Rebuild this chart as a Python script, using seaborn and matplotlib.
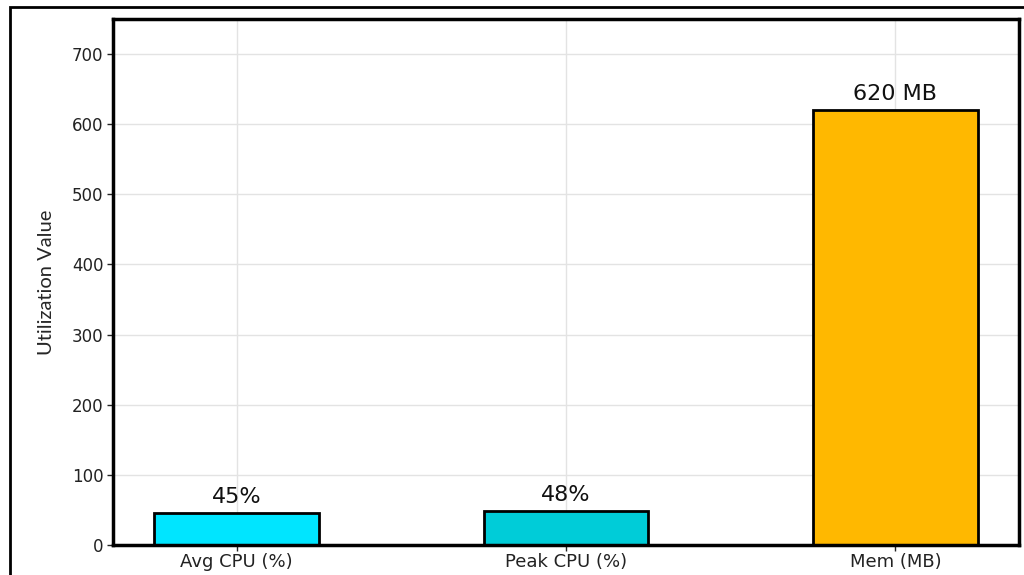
import matplotlib
matplotlib.use("Agg")
import matplotlib.pyplot as plt
import seaborn as sns
import pandas as pd
from matplotlib.patches import Rectangle

# ──────────────────────────────────────────────
# Data
# ──────────────────────────────────────────────
metrics = ["Avg CPU (%)", "Peak CPU (%)", "Mem (MB)"]
values = [45, 48, 620]
labels = ["45%", "48%", "620 MB"]
colors = ["#00E5FF", "#00CCD8", "#FFB800"]

df = pd.DataFrame({"metric": metrics, "value": values})

# ──────────────────────────────────────────────
# Plot
# ──────────────────────────────────────────────
sns.set_style("whitegrid")
plt.rcParams["font.family"] = ["DejaVu Sans"]

fig = plt.figure(figsize=(10.24, 5.75), dpi=100)
ax = fig.add_axes([113 / 1024, 1 - 545 / 575, (1019 - 113) / 1024, (545 - 19) / 575])

sns.barplot(data=df, x="metric", y="value", hue="metric", palette=colors,
            saturation=1, width=0.5, edgecolor="black", linewidth=2,
            legend=False, ax=ax)

for i, (v, lab) in enumerate(zip(values, labels)):
    ax.text(i, v + 9, lab, ha="center", va="bottom", fontsize=16, color="#111111")

ax.set_ylim(0, 750)
ax.set_xlim(-0.375, 2.375)
ax.set_yticks(range(0, 701, 100))
ax.set_xlabel("")
# narrow-looking label font
ax.set_ylabel("Utilization Value", fontsize=14.5, family=["Lato", "DejaVu Sans"],
              labelpad=12)
ax.tick_params(axis="y", labelsize=12, colors="#222222", length=4, width=1, pad=3)
ax.tick_params(axis="x", labelsize=13, colors="#222222", length=4, width=1, pad=2)
ax.tick_params(axis="both", left=True, bottom=True)
ax.grid(True, color="#e3e3e3", linewidth=1)

for s in ax.spines.values():
    s.set_visible(True)
    s.set_color("black")
    s.set_linewidth(2.5)

# outer frame around the figure (cut off at right and bottom)
fig.patches.append(Rectangle((10 / 1024, -0.1), 1.1, 1 - 7 / 575 + 0.1,
                             transform=fig.transFigure, fill=False,
                             edgecolor="black", linewidth=2))

fig.savefig("out.png", dpi=100)
